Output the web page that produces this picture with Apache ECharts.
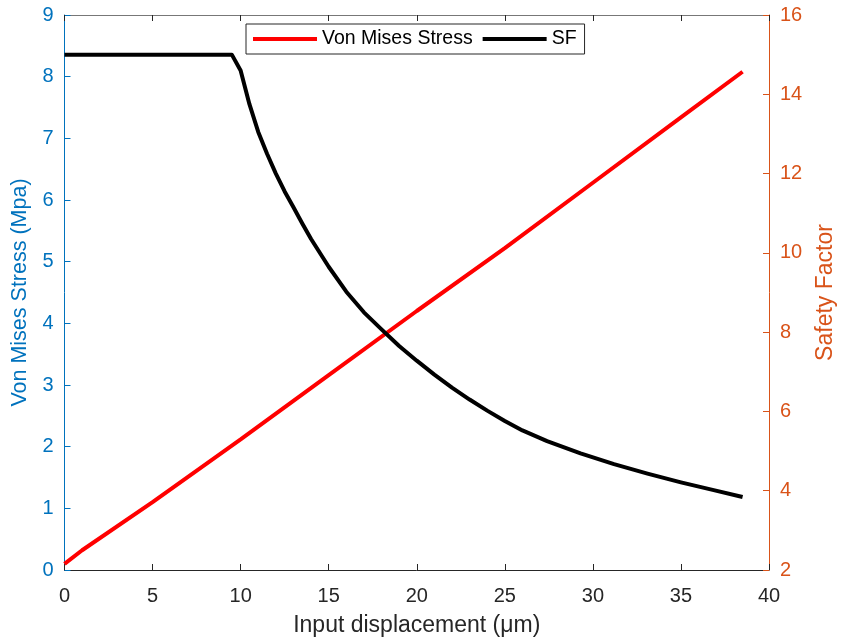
<!DOCTYPE html>
<html>
<head>
<meta charset="utf-8">
<script src="https://cdn.jsdelivr.net/npm/echarts@6/dist/echarts.min.js"></script>
<style>
  html, body { margin: 0; padding: 0; background: #fff; }
  #chart { width: 848px; height: 642px; }
</style>
</head>
<body>
<div id="chart"></div>
<script>
// values
var stressX = [0, 1, 5, 10, 15, 20, 25, 30, 35, 38.5];
var stressY = [0.1, 0.32, 1.1, 2.12, 3.16, 4.2, 5.22, 6.28, 7.34, 8.08];

var sfX = [0, 9.5, 10, 10.5, 11, 11.5, 12, 12.5, 13, 13.5, 14, 15, 16, 17, 18, 19, 20, 21, 22, 23, 24, 25, 26, 27.4, 29.3, 31.2, 33.1, 35, 36.8, 38.5];
var sfY = [15, 15, 14.6, 13.75, 13.05, 12.5, 12.0, 11.55, 11.15, 10.74, 10.35, 9.65, 9.02, 8.5, 8.07, 7.65, 7.28, 6.93, 6.6, 6.3, 6.02, 5.76, 5.52, 5.25, 4.94, 4.67, 4.43, 4.21, 4.02, 3.84];

var blue = '#0072BD';
var orange = '#D95319';
var dark = '#262626';
var font = '"Liberation Sans", Arial, sans-serif';

function pairs(xs, ys) {
  return xs.map(function (x, i) { return [x, ys[i]]; });
}

var chart = echarts.init(document.getElementById('chart'));
chart.setOption({
  animation: false,
  textStyle: { fontFamily: font },
  grid: { left: 64.5, right: 79, top: 15, bottom: 70 },
  legend: {
    left: 246,
    top: 24,
    data: ['Von Mises Stress', 'SF'],
    icon: 'rect',
    itemWidth: 64,
    itemHeight: 4,
    itemGap: 10,
    padding: [5, 8, 5, 7],
    borderColor: dark,
    borderWidth: 1,
    borderRadius: 0,
    textStyle: { fontSize: 19.5, color: '#000', fontFamily: font }
  },
  xAxis: [
    {
      type: 'value',
      min: 0, max: 40, interval: 5,
      name: 'Input displacement (\u03bcm)',
      nameLocation: 'middle',
      nameGap: 44,
      nameTextStyle: { fontSize: 23, color: dark, fontFamily: font },
      axisLine: { onZero: false, lineStyle: { color: dark, width: 1 } },
      axisTick: { inside: true, length: 6, lineStyle: { color: dark } },
      axisLabel: { fontSize: 20, color: dark, margin: 16, fontFamily: font },
      splitLine: { show: false }
    },
    {
      type: 'value',
      position: 'top',
      min: 0, max: 40, interval: 5,
      axisLine: { show: true, onZero: false, lineStyle: { color: '#777', width: 1 } },
      axisTick: { show: true, inside: true, length: 6, lineStyle: { color: dark } },
      axisLabel: { show: false },
      splitLine: { show: false }
    }
  ],
  yAxis: [
    {
      type: 'value',
      min: 0, max: 9, interval: 1,
      name: 'Von Mises Stress (Mpa)',
      nameLocation: 'middle',
      nameGap: 30,
      nameTextStyle: { fontSize: 21.5, color: blue, fontFamily: font },
      axisLine: { show: true, onZero: false, lineStyle: { color: blue, width: 1 } },
      axisTick: { show: true, inside: true, length: 6, lineStyle: { color: blue } },
      axisLabel: { fontSize: 20, color: blue, margin: 11, fontFamily: font },
      splitLine: { show: false }
    },
    {
      type: 'value',
      position: 'right',
      min: 2, max: 16, interval: 2,
      name: 'Safety Factor',
      nameLocation: 'middle',
      nameGap: 45,
      nameTextStyle: { fontSize: 23, color: orange, fontFamily: font },
      axisLine: { show: true, onZero: false, lineStyle: { color: orange, width: 1 } },
      axisTick: { show: true, inside: true, length: 6, lineStyle: { color: orange } },
      axisLabel: { fontSize: 20, color: orange, margin: 11, fontFamily: font },
      splitLine: { show: false }
    }
  ],
  series: [
    {
      name: 'Von Mises Stress',
      type: 'line',
      xAxisIndex: 0,
      yAxisIndex: 0,
      data: pairs(stressX, stressY),
      showSymbol: false,
      lineStyle: { color: '#FF0000', width: 4 },
      itemStyle: { color: '#FF0000' }
    },
    {
      name: 'SF',
      type: 'line',
      xAxisIndex: 0,
      yAxisIndex: 1,
      data: pairs(sfX, sfY),
      showSymbol: false,
      lineStyle: { color: '#000000', width: 4, join: 'round' },
      itemStyle: { color: '#000000' }
    }
  ]
});
</script>
</body>
</html>
